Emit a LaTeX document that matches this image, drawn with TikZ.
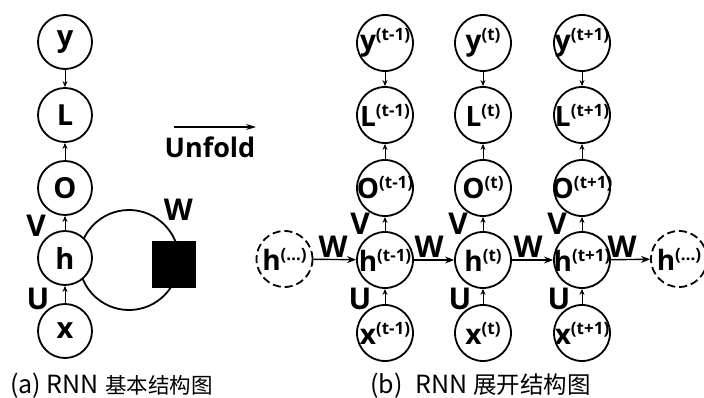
\documentclass[tikz,border=0pt]{standalone}
\usepackage{fontspec}
\setmainfont{Open Sans}
\newfontfamily\cjk{Noto Sans CJK SC}
\usetikzlibrary{arrows.meta}
\newcommand{\symb}[2]{\makebox[0pt]{{\fontsize{28}{28}\selectfont #1}\raisebox{10pt}{\fontsize{17}{17}\selectfont #2}}}
\begin{document}
\begin{tikzpicture}[x=1pt,y=-1pt,
  lnode/.style={circle, draw, fill=white, line width=1.8pt, minimum size=54pt, inner sep=0pt, font=\bfseries\fontsize{29}{29}\selectfont},
  rnode/.style={circle, draw, fill=white, line width=1.8pt, minimum size=56pt, inner sep=0pt, font=\bfseries},
  dnode/.style={rnode, dash pattern=on 8pt off 4pt},
  varrow/.style={-{Stealth[length=6pt,width=5pt]}, line width=1pt},
  harrow/.style={-{Stealth[length=9pt,width=7pt]}, line width=1.4pt},
  lab/.style={font=\bfseries\fontsize{30}{30}\selectfont, inner sep=0pt},
  captext/.style={font=\cjk\fontsize{21.5}{21.5}\selectfont, inner sep=0pt, anchor=west}]
\useasboundingbox (0,0) rectangle (704,398);
\begin{scope}
\clip (0,0) rectangle (704,398);
% ---------- (a) ----------
\draw[line width=1.8pt] (129,260) circle (50);
\node[fill=black, minimum width=44pt, minimum height=47pt, inner sep=0pt] (sq) at (174,264.5) {};
\node[lnode] (ya) at (65,42) {y};
\node[lnode] (La) at (65,115) {L};
\node[lnode] (Oa) at (65,188) {O};
\node[lnode] (ha) at (65,258) {h};
\node[lnode] (xa) at (65,331) {x};
\draw[varrow] (ya) -- (La);
\draw[varrow] (Oa) -- (La);
\draw[varrow] (ha) -- (Oa);
\draw[varrow] (xa) -- (ha);
\node[lab] (Va) at (36,226) {V};
\node[lab] (Ua) at (38,299) {U};
\node[lab] (Wa) at (178.5,210) {W};
% ---------- unfold ----------
\coordinate (u1) at (174,127);
\coordinate (u2) at (256,127);
\draw[-{Stealth[length=10pt,width=6pt]}, line width=1.2pt] (u1) -- (u2);
\node[font=\bfseries\fontsize{27}{27}\selectfont, inner sep=0pt] (unf) at (210,147) {Unfold};
% ---------- (b) ----------
\foreach \c/\t/\n in {385/(t-1)/1, 483/(t)/2, 582/(t+1)/3}{
  \node[rnode] (y\n) at (\c,43) {\symb{y}{\t}};
  \node[rnode] (L\n) at (\c,115) {\symb{L}{\t}};
  \node[rnode] (O\n) at (\c,188) {\symb{O}{\t}};
  \node[rnode] (h\n) at (\c,260) {\symb{h}{\t}};
  \node[rnode] (x\n) at (\c,333) {\symb{x}{\t}};
  \draw[varrow] (y\n) -- (L\n);
  \draw[varrow] (O\n) -- (L\n);
  \draw[varrow] (h\n) -- (O\n);
  \draw[varrow] (x\n) -- (h\n);
}
\node[dnode] (h0) at (284.5,259) {\symb{h}{(…)}};
\node[dnode] (h4) at (679,259) {\symb{h}{(…)}};
\draw[harrow] (h0) -- (h1);
\draw[harrow] (h1) -- (h2);
\draw[harrow] (h2) -- (h3);
\draw[harrow] (h3) -- (h4);
\node[lab] (W1) at (333,247) {W};
\node[lab] (W2) at (429,247) {W};
\node[lab] (W3) at (528,247) {W};
\node[lab] (W4) at (622,247) {W};
\node[lab] (V1) at (360,224) {V};
\node[lab] (V2) at (458,224) {V};
\node[lab] (V3) at (557,224) {V};
\node[lab] (U1) at (360,299) {U};
\node[lab] (U2) at (460,299) {U};
\node[lab] (U3) at (559,299) {U};
% ---------- captions ----------
\node[captext] (capa) at (10,386) {{\fontsize{25}{25}\selectfont (a) RNN}\hspace{0.3em}基本结构图};
\node[captext, font=\cjk\fontsize{23.5}{23.5}\selectfont] (capb) at (370,386) {{\fontsize{25}{25}\selectfont (b)}\hspace{0.55em}{\fontsize{25}{25}\selectfont RNN}\hspace{0.25em}展开结构图};
\end{scope}
\end{tikzpicture}
\end{document}
